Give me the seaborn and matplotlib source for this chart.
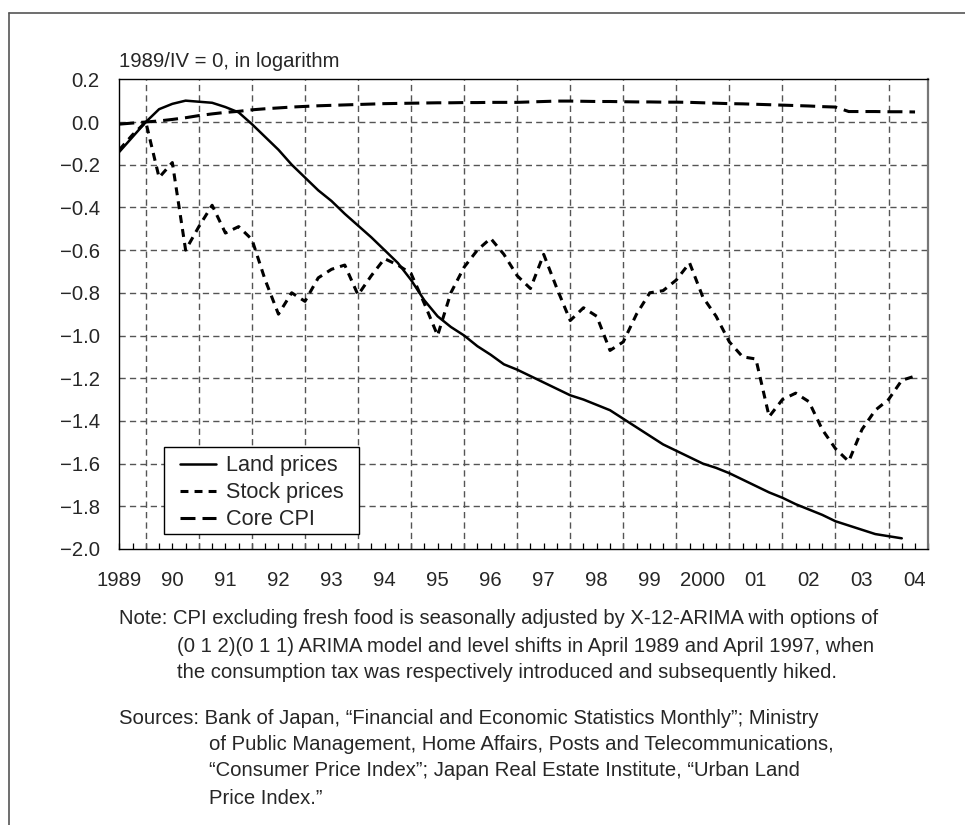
import matplotlib
matplotlib.use("Agg")
import matplotlib.pyplot as plt
import seaborn as sns
import pandas as pd
from matplotlib.lines import Line2D
from matplotlib.patches import Rectangle
from matplotlib.ticker import FixedLocator, FixedFormatter

# ---------------- data (quarterly, 1989/IV = 0, in logarithm) ----------------
start_year = 1989.5          # first quarter shown (position on the time axis)
land = [-0.14, -0.07, 0.00, 0.06, 0.085, 0.10, 0.095, 0.09, 0.07, 0.045,
        -0.01, -0.07, -0.13, -0.20, -0.26, -0.32, -0.37, -0.43, -0.485, -0.54,
        -0.60, -0.66, -0.74, -0.835, -0.91, -0.96, -1.00, -1.05, -1.09, -1.135,
        -1.16, -1.19, -1.22, -1.25, -1.28, -1.30, -1.325, -1.35, -1.39, -1.43,
        -1.47, -1.51, -1.54, -1.57, -1.60, -1.62, -1.645, -1.675, -1.705, -1.735,
        -1.76, -1.79, -1.815, -1.84, -1.87, -1.89, -1.91, -1.93, -1.94, -1.95]
stock = [-0.13, -0.06, 0.00, -0.26, -0.19, -0.60, -0.49, -0.39, -0.52, -0.49,
         -0.55, -0.74, -0.90, -0.80, -0.84, -0.73, -0.69, -0.67, -0.81, -0.72,
         -0.64, -0.67, -0.71, -0.85, -1.00, -0.80, -0.68, -0.60, -0.545, -0.62,
         -0.72, -0.78, -0.62, -0.78, -0.93, -0.87, -0.91, -1.07, -1.03, -0.90,
         -0.80, -0.79, -0.74, -0.66, -0.82, -0.91, -1.03, -1.10, -1.11, -1.38,
         -1.30, -1.27, -1.31, -1.44, -1.53, -1.59, -1.44, -1.35, -1.30, -1.21,
         -1.19]
core_cpi = [-0.010, -0.005, 0.000, 0.005, 0.012, 0.020, 0.030, 0.038, 0.045, 0.050,
            0.057, 0.062, 0.066, 0.070, 0.073, 0.076, 0.078, 0.080, 0.082, 0.084,
            0.086, 0.087, 0.088, 0.089, 0.090, 0.090, 0.091, 0.091, 0.092, 0.092,
            0.092, 0.094, 0.096, 0.098, 0.098, 0.097, 0.096, 0.096, 0.095, 0.094,
            0.094, 0.093, 0.093, 0.092, 0.090, 0.088, 0.086, 0.085, 0.083, 0.081,
            0.079, 0.077, 0.075, 0.072, 0.070, 0.049, 0.049, 0.049, 0.048, 0.048,
            0.047]
series_names = ["Land prices", "Stock prices", "Core CPI"]
year_labels = ["1989", "90", "91", "92", "93", "94", "95", "96", "97", "98",
               "99", "2000", "01", "02", "03", "04"]
y_ticks = [0.2, 0.0, -0.2, -0.4, -0.6, -0.8, -1.0, -1.2, -1.4, -1.6, -1.8, -2.0]
y_note = "1989/IV = 0, in logarithm"
note_lines = ["Note: CPI excluding fresh food is seasonally adjusted by X-12-ARIMA with options of",
              "(0 1 2)(0 1 1) ARIMA model and level shifts in April 1989 and April 1997, when",
              "the consumption tax was respectively introduced and subsequently hiked."]
source_lines = ["Sources: Bank of Japan, \u201cFinancial and Economic Statistics Monthly\u201d; Ministry",
                "of Public Management, Home Affairs, Posts and Telecommunications,",
                "\u201cConsumer Price Index\u201d; Japan Real Estate Institute, \u201cUrban Land",
                "Price Index.\u201d"]


def frame(vals):
    t = [start_year + 0.25 * i for i in range(len(vals))]
    return pd.DataFrame({"t": t, "v": vals})


# ---------------- style ----------------
sns.set_style("white")
plt.rcParams["font.family"] = ["Liberation Sans", "DejaVu Sans"]
plt.rcParams["axes.unicode_minus"] = True

W, H = 965, 825
fig = plt.figure(figsize=(W / 100, H / 100), dpi=100)
L, R, T, B = 119.3, 928.3, 79.3, 549.0
ax = fig.add_axes([L / W, 1 - B / H, (R - L) / W, (B - T) / H])

xmin, xmax = 1989.5, 2004.75
ymin, ymax = -2.0, 0.2
ax.set_xlim(xmin, xmax)
ax.set_ylim(ymin, ymax)

# grid (dashed gray) at year boundaries and every 0.2
grid_kw = dict(color="#555555", lw=1.0, linestyle=(0, (4.5, 3)), zorder=1)
years_int = list(range(1990, 2005))
ax.vlines(years_int, ymin, ymax, **grid_kw)
ax.hlines([v for v in y_ticks if ymin < v < ymax], xmin, xmax, **grid_kw)

# series
blk = "black"
sns.lineplot(data=frame(land), x="t", y="v", ax=ax, color=blk, lw=1.8,
             linestyle="-", label=series_names[0], zorder=3)
sns.lineplot(data=frame(stock), x="t", y="v", ax=ax, color=blk, lw=2.2,
             linestyle=(0, (2.6, 2.0)), label=series_names[1], zorder=3)
sns.lineplot(data=frame(core_cpi), x="t", y="v", ax=ax, color=blk, lw=2.2,
             linestyle=(0, (4.9, 2.3)), label=series_names[2], zorder=3)

ax.set_xlabel("")
ax.set_ylabel("")

# x ticks: quarter ticks inward, year labels centred on each year
label_pos = [1989.5 + i for i in range(len(year_labels))]
quarter_pos = [xmin + 0.25 * i for i in range(int((xmax - xmin) / 0.25) + 1)]
ax.xaxis.set_major_locator(FixedLocator(label_pos))
ax.xaxis.set_major_formatter(FixedFormatter(year_labels))
ax.xaxis.set_minor_locator(FixedLocator(quarter_pos))
ax.tick_params(axis="x", which="both", direction="in", length=4.3, width=0.9,
               bottom=True, top=False, color="black")
ax.tick_params(axis="x", which="major", labelsize=14.6, pad=15.5)

ax.set_yticks(y_ticks)
ax.set_yticklabels([f"{v:.1f}".replace("-", "\u2212") for v in y_ticks])
ax.tick_params(axis="y", which="both", left=False, length=0, labelsize=14.6, pad=14)

for side in ["left", "top", "bottom"]:
    ax.spines[side].set_color("black")
    ax.spines[side].set_linewidth(1.0)
ax.spines["right"].set_color("#777777")
ax.spines["right"].set_linewidth(1.6)
for s in ax.spines.values():
    s.set_zorder(4)

# legend with framed box
handles = ax.get_lines()[:3]
leg = ax.legend(handles=handles, labels=series_names, loc="upper left",
                bbox_to_anchor=((180 - L) / (R - L), (B - 455.5) / (B - T)),
                frameon=False, fontsize=15.6, handlelength=1.68, handletextpad=0.45,
                labelspacing=0.27, borderpad=0, borderaxespad=0)
leg.set_zorder(6)
ax.add_patch(Rectangle(((164.3 - L) / (R - L), (B - 534) / (B - T)),
                       (359.3 - 164.3) / (R - L), (534 - 447.3) / (B - T),
                       transform=ax.transAxes, facecolor="white", edgecolor="black",
                       lw=1.0, zorder=5))

# texts
fs_note = 14.6
fig.text(L / W, 1 - 61.7 / H, y_note, fontsize=14.6, va="center", ha="left")
note_x = [119.3, 176.7, 176.7]
note_y = [619, 646, 673]
for x, y, s in zip(note_x, note_y, note_lines):
    fig.text(x / W, 1 - y / H, s, fontsize=fs_note, va="center", ha="left")
src_x = [119.3, 209, 209, 209]
src_y = [718, 745, 771, 798]
for x, y, s in zip(src_x, src_y, source_lines):
    fig.text(x / W, 1 - y / H, s, fontsize=fs_note, va="center", ha="left")

# outer frame (top and left edges)
fr = dict(color="#555555", lw=1.2, transform=fig.transFigure)
fig.add_artist(Line2D([9.3 / W, 1.0], [1 - 12.7 / H, 1 - 12.7 / H], **fr))
fig.add_artist(Line2D([9.3 / W, 9.3 / W], [0.0, 1 - 12.7 / H], **fr))

fig.savefig("out.png", dpi=100)
